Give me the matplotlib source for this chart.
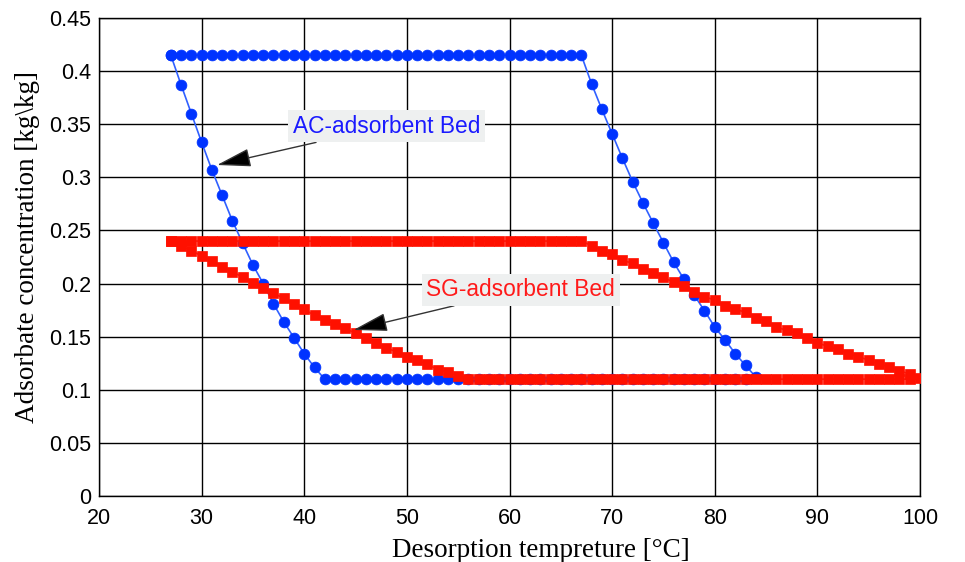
import numpy as np
import matplotlib
matplotlib.use("Agg")
import matplotlib.pyplot as plt

# ---- data ----
ac_top_temp = np.arange(27, 68)
ac_top_conc = np.full(ac_top_temp.size, 0.415)
ac_right_temp = [68, 69, 70, 71, 72, 73, 74, 75, 76, 77, 78, 79, 80, 81, 82, 83, 84]
ac_right_conc = [0.388, 0.364, 0.341, 0.318, 0.296, 0.276, 0.257, 0.2385, 0.220,
                 0.204, 0.189, 0.1745, 0.159, 0.147, 0.134, 0.123, 0.112]
ac_bottom_temp = np.arange(83, 41, -1)
ac_bottom_conc = np.full(ac_bottom_temp.size, 0.11)
ac_left_temp = [41, 40, 39, 38, 37, 36, 35, 34, 33, 32, 31, 30, 29, 28, 27]
ac_left_conc = [0.121, 0.134, 0.149, 0.164, 0.181, 0.200, 0.2175, 0.238, 0.259,
                0.283, 0.307, 0.333, 0.360, 0.387, 0.415]

sg_top_temp = np.arange(27, 68)
sg_top_conc = np.full(sg_top_temp.size, 0.24)
sg_right_temp = [68, 69, 70, 71, 72, 73, 74, 75, 76, 77, 78, 79, 80, 81, 82, 83, 84,
                 85, 86, 87, 88, 89, 90, 91, 92, 93, 94, 95, 96, 97, 98, 99, 100]
sg_right_conc = [0.2357, 0.231, 0.2275, 0.222, 0.219, 0.2137, 0.2096, 0.206, 0.201,
                 0.1977, 0.1923, 0.1876, 0.1845, 0.179, 0.1758, 0.173, 0.168, 0.1648,
                 0.159, 0.156, 0.153, 0.149, 0.144, 0.141, 0.138, 0.134, 0.131, 0.128,
                 0.124, 0.1217, 0.118, 0.1146, 0.111]
sg_bottom_temp = np.arange(99, 55, -1)
sg_bottom_conc = np.full(sg_bottom_temp.size, 0.11)
sg_left_temp = [55, 54, 53, 52, 51, 50, 49, 48, 47, 46, 45, 44, 43, 42, 41, 40, 39,
                38, 37, 36, 35, 34, 33, 32, 31, 30, 29, 28, 27]
sg_left_conc = [0.113, 0.1165, 0.119, 0.124, 0.128, 0.131, 0.136, 0.139, 0.144, 0.149,
                0.153, 0.158, 0.162, 0.1657, 0.170, 0.1757, 0.181, 0.186, 0.191, 0.196,
                0.2008, 0.206, 0.211, 0.216, 0.221, 0.226, 0.231, 0.2354, 0.24]

x_ticks = [20, 30, 40, 50, 60, 70, 80, 90, 100]
y_ticks = [0, 0.05, 0.1, 0.15, 0.2, 0.25, 0.3, 0.35, 0.4, 0.45]
y_tick_labels = ["0", "0.05", "0.1", "0.15", "0.2", "0.25", "0.3", "0.35", "0.4", "0.45"]

ac_temp = np.concatenate([ac_top_temp, ac_right_temp, ac_bottom_temp, ac_left_temp])
ac_conc = np.concatenate([ac_top_conc, ac_right_conc, ac_bottom_conc, ac_left_conc])
sg_temp = np.concatenate([sg_top_temp, sg_right_temp, sg_bottom_temp, sg_left_temp])
sg_conc = np.concatenate([sg_top_conc, sg_right_conc, sg_bottom_conc, sg_left_conc])

# ---- figure ----
fig = plt.figure(figsize=(9.65, 5.62), dpi=100)
ax = fig.add_axes([99 / 965, 1 - 496 / 562, (920 - 99) / 965, (496 - 18) / 562])

ax.plot(ac_temp, ac_conc, color="#3060ff", lw=1.2, marker="o", ms=7.8, mew=0.5,
        mfc="#0033ff", mec="#0033ff", zorder=3)
ax.plot(sg_temp, sg_conc, color="#ff3030", lw=1.2, marker="s", ms=6.8, mew=0.5,
        mfc="#ff1000", mec="#ff1000", zorder=4)

ax.set_xlim(20, 100)
ax.set_ylim(0, 0.45)
ax.set_xticks(x_ticks)
ax.set_yticks(y_ticks)
ax.set_yticklabels(y_tick_labels)
ax.grid(True, color="black", lw=1.0)
ax.set_axisbelow(True)
for s in ax.spines.values():
    s.set_color("black")
    s.set_linewidth(1.0)
ax.tick_params(direction="in", length=0, labelsize=15.5)
ax.tick_params(axis="x", pad=9)
ax.tick_params(axis="y", pad=5.8)
for lab in ax.get_xticklabels() + ax.get_yticklabels():
    lab.set_fontfamily("Liberation Sans")

ax.set_xlabel("Desorption tempreture [°C]", family="Liberation Serif", fontsize=19.5, labelpad=6)
ax.set_ylabel("Adsorbate concentration [kg\\kg]", family="Liberation Serif", fontsize=19.5, labelpad=6)
ax.xaxis.label.set_x(0.538)
ax.yaxis.label.set_y(0.52)

arrow_style = dict(arrowstyle="-|>,head_length=1.3,head_width=0.35", color="#444444",
                   fc="black", ec="#333333", lw=1.0, shrinkA=0, shrinkB=0)
ax.annotate("AC-adsorbent Bed", xy=(31.5, 0.3116), xytext=(48.0, 0.348),
            ha="center", va="center", color="#1a1aff", fontsize=16.4, family="Liberation Sans",
            bbox=dict(boxstyle="square,pad=0.2", fc="#eef0f0", ec="none"),
            arrowprops=arrow_style, zorder=6)
ax.annotate("SG-adsorbent Bed", xy=(44.8, 0.1563), xytext=(61.1, 0.1942),
            ha="center", va="center", color="#ff1a1a", fontsize=16.4, family="Liberation Sans",
            bbox=dict(boxstyle="square,pad=0.2", fc="#eef0f0", ec="none"),
            arrowprops=arrow_style, zorder=6)

fig.savefig("out.png", dpi=100)
